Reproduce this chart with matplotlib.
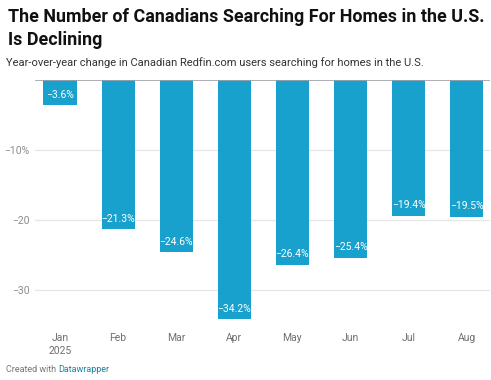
import matplotlib
matplotlib.use("Agg")
import matplotlib.pyplot as plt

months = ["Jan\n2025", "Feb", "Mar", "Apr", "May", "Jun", "Jul", "Aug"]
values = [-3.6, -21.3, -24.6, -34.2, -26.4, -25.4, -19.4, -19.5]
yticks = [-10, -20, -30]
ytick_labels = ["\u221210%", "\u221220", "\u221230"]

plt.rcParams['font.family'] = ['Roboto', 'DejaVu Sans']
W, H = 491, 380
fig = plt.figure(figsize=(W/100, H/100), dpi=100)
ax_left, ax_right = 35, 490
ax_top, ax_bot = 80, 325
ax = fig.add_axes([ax_left/W, 1-ax_bot/H, (ax_right-ax_left)/W, (ax_bot-ax_top)/H])

x = list(range(len(values)))
bar_color = "#18a1cd"
ax.bar(x, values, width=0.57, color=bar_color, zorder=2)
ax.set_ylim(-35, 0)
ax.set_xlim(-0.43, 7.4)
for t in yticks:
    ax.axhline(t, color="#e6e6e6", lw=0.9, zorder=1)
ax.axhline(0, color="#a0a0a8", lw=1.2, zorder=3)
for s in ax.spines.values():
    s.set_visible(False)
ax.set_yticks(yticks)
ax.set_yticklabels(ytick_labels, color="#8c8c8c", fontsize=7.5)
ax.tick_params(axis='y', length=0, pad=4)
ax.set_xticks(x)
ax.set_xticklabels(months, color="#707070", fontsize=7.5, linespacing=1.35)
ax.tick_params(axis='x', length=0, pad=6)

for xi, v in zip(x, values):
    ax.annotate(f"\u2212{abs(v):.1f}%", (xi, v), xytext=(0, 7.5), textcoords="offset points",
                ha="center", va="center", color="white", fontsize=7.5, zorder=4)

fig.text(8/W, 1-17/H, "The Number of Canadians Searching For Homes in the U.S.", fontsize=12.9,
         fontweight="bold", color="#111111", va="center", ha="left")
fig.text(8/W, 1-40/H, "Is Declining", fontsize=12.9, fontweight="bold", color="#111111",
         va="center", ha="left")
fig.text(6/W, 1-63/H, "Year-over-year change in Canadian Redfin.com users searching for homes in the U.S.",
         fontsize=8.0, color="#333333", va="center", ha="left")
t1 = fig.text(6/W, 1-370/H, "Created with ", fontsize=6.5, color="#777777", va="center", ha="left")
fig.canvas.draw()
bb = t1.get_window_extent()
fig.text(bb.x1/W, 1-370/H, "Datawrapper", fontsize=6.5, color="#1d81a2", va="center", ha="left")

fig.savefig("out.png", dpi=100)
